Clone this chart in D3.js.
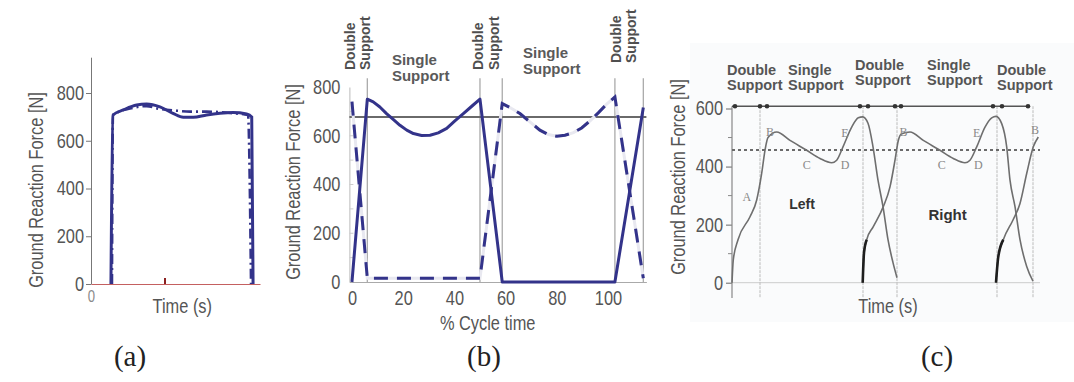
<!DOCTYPE html>
<html>
<head>
<meta charset="utf-8">
<script src="https://cdn.jsdelivr.net/npm/d3@7"></script>
<style>
  body { margin: 0; background: #fff; }
  svg { display: block; }
</style>
</head>
<body>
<div id="chart"></div>
<script>
// ---- panel (a): single stance force vs time
const aTicks = [0, 200, 400, 600, 800]
const aSolidT = [0.118, 0.130, 0.191, 0.270, 0.329, 0.408, 0.485, 0.546, 0.605, 0.684, 0.763, 0.840, 0.921, 0.951, 0.959]
const aSolidF = [0, 708, 729, 750, 754, 742, 715, 698, 698, 708, 715, 718, 712, 700, 0]
const aDashT = [0.124, 0.130, 0.231, 0.329, 0.408, 0.507, 0.586, 0.684, 0.763, 0.840, 0.929, 0.947]
const aDashF = [0, 708, 735, 745, 733, 726, 722, 722, 720, 715, 708, 0]
const aMarkT = 0.438

// ---- panel (b): % cycle time
const bXTicks = [0, 20, 40, 60, 80, 100]
const bYTicks = [0, 200, 400, 600, 800]
const bSolidX = [0, 6, 8.3, 10.9, 13.5, 16.1, 18.75, 21.4, 24, 27.2, 30.5, 33.7, 37, 40.2, 43.5, 46.8, 50, 58.7, 102.7, 113.8]
const bSolidF = [0, 750, 739, 718, 691, 667, 643, 623, 609, 601, 602, 612, 630, 661, 691, 721, 750, 0, 0, 716]
const bDashX = [0, 6, 50, 58.7, 61.7, 65.6, 69.5, 73.4, 76.7, 80, 83.2, 86.5, 89.7, 93, 96.2, 99.5, 102.7, 113.8]
const bDashF = [740, 15, 15, 732, 716, 691, 657, 623, 605, 598, 602, 613, 632, 661, 694, 730, 759, 15]
const bBodyWeight = 677
const bPhase = [6, 50, 58.7, 102.7, 113.8]
const bDoubleAt = [2.7, 52.9, 106.6]
const bSingleAt = [15.6, 66.8]

// ---- panel (c): measured left / right
const cTicks = [0, 200, 400, 600]
const cMinor = [100, 300, 500]
const c1T = [0, 0.0065, 0.03, 0.09, 0.1235, 0.1485, 0.165, 0.18, 0.2235, 0.29, 0.3735, 0.44, 0.4985, 0.5235, 0.555, 0.5985, 0.6315, 0.6535, 0.68, 0.705, 0.73, 0.755, 0.78, 0.805, 0.825]
const c1F = [0, 79, 148, 227, 285, 377, 456, 500, 519, 490, 456, 428, 413, 422, 468, 536, 568, 571, 549, 468, 353, 262, 148, 69, 17]
const c2T = [0.6535, 0.66, 0.6735, 0.7065, 0.7565, 0.79, 0.815, 0.8315, 0.8485, 0.89, 0.9565, 1.04, 1.1065, 1.165, 1.19, 1.2235, 1.265, 1.2985, 1.32, 1.3485, 1.3735, 1.39, 1.415, 1.44, 1.4735, 1.505]
const c2F = [0, 103, 148, 193, 262, 330, 422, 490, 513, 519, 490, 456, 428, 413, 422, 468, 536, 568, 573, 548, 468, 353, 262, 148, 56, 5]
const c3T = [1.32, 1.3315, 1.3565, 1.405, 1.44, 1.4735, 1.5065, 1.5315]
const c3F = [0, 90, 148, 216, 273, 376, 468, 502]
const cThreshold = 457
const cPhase = [0.14, 0.655, 0.825, 1.325, 1.505]
const cDots = [0.015, 0.14, 0.175, 0.64, 0.68, 0.815, 0.845, 1.305, 1.35, 1.48]
const cPhaseNames = [['Double', 'Support'], ['Single', 'Support'], ['Double', 'Support'], ['Single', 'Support'], ['Double', 'Support']]
const cPhaseAt = [-0.025, 0.28, 0.615, 0.975, 1.325]
const cLetters = ['A', 'B', 'C', 'D', 'E', 'B', 'C', 'D', 'E', 'B']
const cLetterT = [0.074, 0.19, 0.374, 0.565, 0.565, 0.857, 1.049, 1.232, 1.223, 1.515]
const cLetterF = [295, 520, 405, 405, 516, 520, 405, 405, 516, 526]

const SANS = "'Liberation Sans', Arial, sans-serif"
const SERIF = "'Liberation Serif', 'DejaVu Serif', serif"
const NAVY = '#33338a'
const GREY = '#4f4f4f'
const SQUEEZE = 0.82   // the original uses a narrow face; squeeze Liberation Sans to match

const svg = d3.select('#chart').append('svg')
  .attr('width', 1074)
  .attr('height', 382)

svg.append('rect').attr('width', 1074).attr('height', 382).attr('fill', '#fff')

const zip = (xs, ys) => xs.map((x, i) => [x, ys[i]])

// axis tick labels in the narrow look
function narrowTicks(g, size, color) {
  g.selectAll('text')
    .attr('font-family', SANS)
    .attr('font-size', size)
    .attr('fill', color)
    .attr('transform', `scale(${SQUEEZE},1)`)
    .attr('x', function() { return (+d3.select(this).attr('x') || 0) / SQUEEZE })
}

// a free standing narrow label (optionally rotated)
function narrowLabel(g, x, y, txt, rotate) {
  g.append('text')
    .attr('transform', `translate(${x},${y})${rotate ? ' rotate(-90)' : ''} scale(${SQUEEZE},1)`)
    .attr('text-anchor', 'middle')
    .attr('font-family', SANS).attr('font-size', 20).attr('fill', '#555')
    .text(txt)
}

// =========================== (a)
const xA = d3.scaleLinear().domain([0, 1]).range([91, 260])
const yA = d3.scaleLinear().domain([0, 950]).range([284, 57.2])
const gA = svg.append('g')

gA.append('g')
  .attr('transform', 'translate(91,0)')
  .call(d3.axisLeft(yA).tickValues(aTicks).tickSize(5).tickSizeOuter(0).tickPadding(2))
  .call(g => g.select('.domain').attr('stroke', '#777'))
  .call(g => g.selectAll('.tick line').attr('stroke', '#777'))
  .call(g => narrowTicks(g, 20, '#555'))

gA.append('g')
  .attr('transform', `translate(0,${yA(0)})`)
  .call(d3.axisBottom(xA).tickValues([0]).tickFormat(d3.format('d')).tickSize(0).tickSizeOuter(0).tickPadding(7))
  .call(g => g.select('.domain').attr('stroke', '#c46060'))
  .call(g => narrowTicks(g, 16, '#8a8a8a'))

gA.append('line')
  .attr('x1', xA(aMarkT)).attr('x2', xA(aMarkT))
  .attr('y1', yA(0)).attr('y2', yA(0) - 6)
  .attr('stroke', '#8b2020').attr('stroke-width', 2)

const lineA = d3.line().x(d => xA(d[0])).y(d => yA(d[1])).curve(d3.curveMonotoneX)

gA.append('path')
  .attr('d', lineA(zip(aDashT, aDashF)))
  .attr('fill', 'none').attr('stroke', NAVY).attr('stroke-width', 2.6)
  .attr('stroke-dasharray', '10,4,2,4')

gA.append('path')
  .attr('d', lineA(zip(aSolidT, aSolidF)))
  .attr('fill', 'none').attr('stroke', NAVY).attr('stroke-width', 3)

narrowLabel(gA, 43, 190, 'Ground Reaction Force [N]', true)
narrowLabel(gA, xA(0.54), 313, 'Time (s)')

// =========================== (b)
const xB = d3.scaleLinear().domain([-1, 115]).range([349.4, 646.4])
const yB = d3.scaleLinear().domain([0, 800]).range([282, 87])
const gB = svg.append('g')

gB.append('g')
  .attr('transform', `translate(${xB(-1)},0)`)
  .call(d3.axisLeft(yB).tickValues(bYTicks).tickSize(0).tickSizeOuter(0).tickPadding(9))
  .call(g => g.select('.domain').attr('stroke', '#bbb'))
  .call(g => narrowTicks(g, 20, '#555'))

gB.append('g')
  .selectAll('line')
  .data(d3.range(100, 800, 100))
  .join('line')
  .attr('x1', xB(-1)).attr('x2', xB(-1) + 4)
  .attr('y1', d => yB(d)).attr('y2', d => yB(d))
  .attr('stroke', '#ccc')

gB.append('g')
  .attr('transform', `translate(0,${yB(0)})`)
  .call(d3.axisBottom(xB).tickValues(bXTicks).tickSize(0).tickSizeOuter(0).tickPadding(9))
  .call(g => g.select('.domain').attr('stroke', '#aaa'))
  .call(g => narrowTicks(g, 20, '#555'))

gB.append('g')
  .selectAll('line')
  .data(bPhase)
  .join('line')
  .attr('x1', d => xB(d)).attr('x2', d => xB(d))
  .attr('y1', yB(0)).attr('y2', yB(836))
  .attr('stroke', '#aaa').attr('stroke-width', 1.3)

gB.append('line')
  .attr('x1', xB(-1)).attr('x2', xB(115))
  .attr('y1', yB(bBodyWeight)).attr('y2', yB(bBodyWeight))
  .attr('stroke', '#6a6a6a').attr('stroke-width', 2)

const lineB = d3.line().x(d => xB(d[0])).y(d => yB(d[1]))

gB.append('path')
  .attr('d', lineB(zip(bDashX, bDashF)))
  .attr('fill', 'none').attr('stroke', '#e8e8f0').attr('stroke-width', 3)

gB.append('path')
  .attr('d', lineB(zip(bDashX, bDashF)))
  .attr('fill', 'none').attr('stroke', NAVY).attr('stroke-width', 3)
  .attr('stroke-dasharray', '14,9')

gB.append('path')
  .attr('d', lineB(zip(bSolidX, bSolidF)))
  .attr('fill', 'none').attr('stroke', NAVY).attr('stroke-width', 3)
  .attr('stroke-linejoin', 'round')

const dblB = gB.append('g')
  .selectAll('text')
  .data(bDoubleAt)
  .join('text')
  .attr('transform', (d, i) => `translate(${xB(d)},${i === 2 ? 63 : 70}) rotate(-90)`)
  .attr('font-family', SANS).attr('font-weight', 'bold').attr('font-size', 14).attr('fill', GREY)
dblB.append('tspan').attr('x', 0).attr('y', -4).text('Double')
dblB.append('tspan').attr('x', 0).attr('y', 11.5).text('Support')

const sglB = gB.append('g')
  .selectAll('text')
  .data(bSingleAt)
  .join('text')
  .attr('font-family', SANS).attr('font-weight', 'bold').attr('font-size', 15).attr('fill', '#5a5a5a')
sglB.append('tspan').attr('x', d => xB(d)).attr('y', (d, i) => i === 0 ? 65 : 58).text('Single')
sglB.append('tspan').attr('x', d => xB(d)).attr('y', (d, i) => i === 0 ? 81 : 74).text('Support')

narrowLabel(gB, 300, 182, 'Ground Reaction Force [N]', true)
narrowLabel(gB, xB(53), 330, '% Cycle time')

// =========================== (c)
const xC = d3.scaleLinear().domain([0, 1.54]).range([732, 1040])
const yC = d3.scaleLinear().domain([0, 600]).range([282.7, 108.5])
const gC = svg.append('g')

gC.append('rect')
  .attr('x', 690).attr('y', 43).attr('width', 384).attr('height', 279)
  .attr('fill', '#fafbfc')

gC.append('line')
  .attr('x1', xC(0)).attr('x2', xC(1.54))
  .attr('y1', yC(0)).attr('y2', yC(0))
  .attr('stroke', '#ccc')

gC.append('g')
  .attr('transform', `translate(${xC(0)},0)`)
  .call(d3.axisLeft(yC).tickValues(cTicks).tickSize(6).tickSizeOuter(0).tickPadding(3))
  .call(g => g.select('.domain').remove())
  .call(g => g.selectAll('.tick line').attr('stroke', '#666'))
  .call(g => narrowTicks(g, 20, '#555'))

gC.append('g')
  .selectAll('line')
  .data(cMinor)
  .join('line')
  .attr('x1', xC(0) - 4).attr('x2', xC(0))
  .attr('y1', d => yC(d)).attr('y2', d => yC(d))
  .attr('stroke', '#888')

gC.append('line')
  .attr('x1', xC(0)).attr('x2', xC(0))
  .attr('y1', yC(608)).attr('y2', yC(-53))
  .attr('stroke', '#888').attr('stroke-width', 1.2)

gC.append('g')
  .selectAll('line')
  .data(cPhase)
  .join('line')
  .attr('x1', d => xC(d)).attr('x2', d => xC(d))
  .attr('y1', yC(608)).attr('y2', yC(-53))
  .attr('stroke', '#bbb').attr('stroke-dasharray', '3,1')

gC.append('line')
  .attr('x1', xC(0)).attr('x2', xC(1.54))
  .attr('y1', yC(cThreshold)).attr('y2', yC(cThreshold))
  .attr('stroke', '#6a6a6a').attr('stroke-width', 2)
  .attr('stroke-dasharray', '3,3')

gC.append('line')
  .attr('x1', xC(0)).attr('x2', xC(1.49))
  .attr('y1', yC(608)).attr('y2', yC(608))
  .attr('stroke', '#555').attr('stroke-width', 1.6)

gC.append('g')
  .selectAll('circle')
  .data(cDots)
  .join('circle')
  .attr('cx', d => xC(d)).attr('cy', yC(608))
  .attr('r', 2.3).attr('fill', '#333')

const lineC = d3.line().x(d => xC(d[0])).y(d => yC(d[1])).curve(d3.curveMonotoneX)

;[zip(c1T, c1F), zip(c2T, c2F), zip(c3T, c3F)].forEach((pts, i) => {
  gC.append('path')
    .attr('d', lineC(pts))
    .attr('fill', 'none').attr('stroke', '#6e6e6e').attr('stroke-width', 1.6)
  if (i > 0) {
    gC.append('path')
      .attr('d', lineC(pts.slice(0, 3)))
      .attr('fill', 'none').attr('stroke', '#1e1e1e').attr('stroke-width', 2.6)
  }
})

gC.append('g')
  .selectAll('text')
  .data(cLetters)
  .join('text')
  .attr('x', (d, i) => xC(cLetterT[i])).attr('y', (d, i) => yC(cLetterF[i]))
  .attr('text-anchor', 'middle').attr('dominant-baseline', 'central')
  .attr('font-family', SERIF).attr('font-size', 12).attr('fill', '#888')
  .text(d => d)

gC.append('text')
  .attr('x', xC(0.35)).attr('y', yC(270))
  .attr('text-anchor', 'middle').attr('dominant-baseline', 'central')
  .attr('font-family', SANS).attr('font-weight', 'bold').attr('font-size', 14).attr('fill', '#333')
  .text('Left')

gC.append('text')
  .attr('x', xC(1.078)).attr('y', yC(236))
  .attr('text-anchor', 'middle').attr('dominant-baseline', 'central')
  .attr('font-family', SANS).attr('font-weight', 'bold').attr('font-size', 15).attr('fill', '#333')
  .text('Right')

const phC = gC.append('g')
  .selectAll('text')
  .data(cPhaseNames)
  .join('text')
  .attr('font-family', SANS).attr('font-weight', 'bold').attr('font-size', 14.5).attr('fill', '#555')
phC.append('tspan').attr('x', (d, i) => xC(cPhaseAt[i])).attr('y', (d, i) => (i === 2 || i === 3) ? 70 : 75).text(d => d[0])
phC.append('tspan').attr('x', (d, i) => xC(cPhaseAt[i])).attr('y', (d, i) => (i === 2 || i === 3) ? 85 : 90).text(d => d[1])

narrowLabel(gC, 685, 177, 'Ground Reaction Force [N]', true)
narrowLabel(gC, xC(0.78), 313, 'Time (s)')

// captions
svg.append('g')
  .selectAll('text')
  .data([['(a)', 130], ['(b)', 484], ['(c)', 937]])
  .join('text')
  .attr('x', d => d[1]).attr('y', 366)
  .attr('text-anchor', 'middle')
  .attr('font-family', SERIF).attr('font-size', 29).attr('fill', '#222')
  .text(d => d[0])
</script>
</body>
</html>
